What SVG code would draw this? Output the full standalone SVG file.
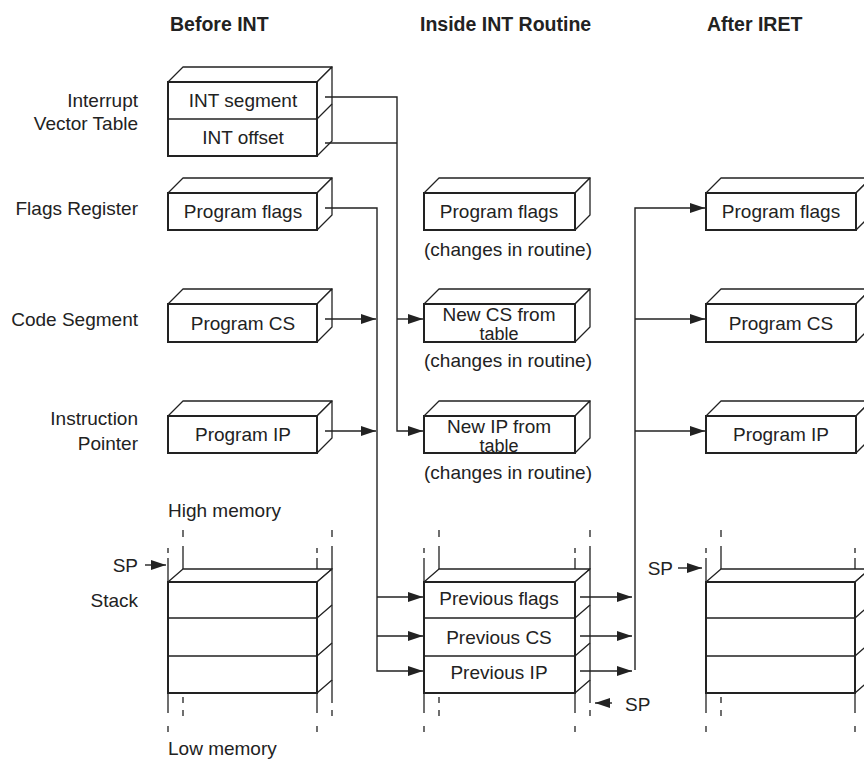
<svg xmlns="http://www.w3.org/2000/svg" width="864" height="759" viewBox="0 0 864 759">
<style>
text{font-family:"Liberation Sans",Arial,sans-serif;font-size:19px;fill:#222}
.h{font-weight:bold;font-size:19.5px}
.m{text-anchor:middle}
.r{text-anchor:end}
.t{font-size:18px}
.f{fill:#fff;stroke:#222;stroke-width:2}
.d{fill:#fff;stroke:#222;stroke-width:1.3;stroke-linejoin:round}
.l{fill:none;stroke:#222;stroke-width:1.3}
.c{fill:none;stroke:#222;stroke-width:1.4}
</style>
<defs>
<marker id="ah" markerUnits="userSpaceOnUse" markerWidth="15" markerHeight="10" refX="15" refY="5" orient="auto">
<path d="M0,0 L15,5 L0,10 z" fill="#222"/>
</marker>
</defs>
<rect width="864" height="759" fill="#fff"/>

<g id="headers">
<text class="h" x="170" y="31">Before INT</text>
<text class="h" x="420" y="31">Inside INT Routine</text>
<text class="h" x="707" y="31">After IRET</text>
</g>

<g id="labels">
<text class="r" x="138" y="107">Interrupt</text>
<text class="r" x="138" y="130">Vector Table</text>
<text class="r" x="138" y="215">Flags Register</text>
<text class="r" x="138" y="326">Code Segment</text>
<text class="r" x="138" y="425">Instruction</text>
<text class="r" x="138" y="450">Pointer</text>
<text x="168" y="517">High memory</text>
<text x="168" y="755">Low memory</text>
<text class="r" x="138" y="607">Stack</text>
</g>

<g id="ivt">
<path class="d" d="M168,82 L183,67 H332 L317,82 Z"/>
<path class="d" d="M317,82 L332,67 V141 L317,156 Z"/>
<path class="l" d="M317,119 L332,104"/>
<rect class="f" x="168" y="82" width="149" height="74"/>
<path class="l" d="M168,119 H317"/>
<text class="m" x="243" y="107">INT segment</text>
<text class="m" x="243" y="144">INT offset</text>
</g>

<g id="flags-before">
<path class="d" d="M168,193 L183,178 H332 L317,193 Z"/>
<path class="d" d="M317,193 L332,178 V215 L317,230 Z"/>
<rect class="f" x="168" y="193" width="149" height="37"/>
<text class="m" x="243" y="218">Program flags</text>
</g>

<g id="cs-before">
<path class="d" d="M168,304 L183,289 H332 L317,304 Z"/>
<path class="d" d="M317,304 L332,289 V327 L317,342 Z"/>
<rect class="f" x="168" y="304" width="149" height="38"/>
<text class="m" x="243" y="330">Program CS</text>
</g>

<g id="ip-before">
<path class="d" d="M168,416 L183,401 H332 L317,416 Z"/>
<path class="d" d="M317,416 L332,401 V438 L317,453 Z"/>
<rect class="f" x="168" y="416" width="149" height="37"/>
<text class="m" x="243" y="441">Program IP</text>
</g>

<g id="flags-inside">
<path class="d" d="M424,193 L439,178 H590 L575,193 Z"/>
<path class="d" d="M575,193 L590,178 V215 L575,230 Z"/>
<rect class="f" x="424" y="193" width="151" height="37"/>
<text class="m" x="499" y="218">Program flags</text>
<text class="m" x="508" y="256">(changes in routine)</text>
</g>

<g id="cs-inside">
<path class="d" d="M424,304 L439,289 H590 L575,304 Z"/>
<path class="d" d="M575,304 L590,289 V327 L575,342 Z"/>
<rect class="f" x="424" y="304" width="151" height="38"/>
<text class="m" x="499" y="321">New CS from</text>
<text class="m t" x="499" y="340">table</text>
<text class="m" x="508" y="367">(changes in routine)</text>
</g>

<g id="ip-inside">
<path class="d" d="M424,416 L439,401 H590 L575,416 Z"/>
<path class="d" d="M575,416 L590,401 V438 L575,453 Z"/>
<rect class="f" x="424" y="416" width="151" height="37"/>
<text class="m" x="499" y="433">New IP from</text>
<text class="m t" x="499" y="452">table</text>
<text class="m" x="508" y="479">(changes in routine)</text>
</g>

<g id="flags-after">
<path class="d" d="M706,193 L721,178 H871 L856,193 Z"/>
<path class="d" d="M856,193 L871,178 V215 L856,230 Z"/>
<rect class="f" x="706" y="193" width="150" height="37"/>
<text class="m" x="781" y="218">Program flags</text>
</g>

<g id="cs-after">
<path class="d" d="M706,304 L721,289 H871 L856,304 Z"/>
<path class="d" d="M856,304 L871,289 V327 L856,342 Z"/>
<rect class="f" x="706" y="304" width="150" height="38"/>
<text class="m" x="781" y="330">Program CS</text>
</g>

<g id="ip-after">
<path class="d" d="M706,416 L721,401 H871 L856,416 Z"/>
<path class="d" d="M856,416 L871,401 V438 L856,453 Z"/>
<rect class="f" x="706" y="416" width="150" height="37"/>
<text class="m" x="781" y="441">Program IP</text>
</g>

<g id="stack-before">
<path class="l" d="M168,548 V553 M168,558 V582 M317,548 V553 M317,558 V582 M183,530 V537 M183,546 V569 M332,530 V537 M332,546 V569"/>
<path class="l" d="M168,693 V713 M168,726 V732 M317,693 V713 M317,726 V732 M183,697 V703 M183,710 V716 M332,680 V703 M332,710 V716"/>
<path class="d" d="M168,582 L183,569 H332 L317,582 Z"/>
<path class="d" d="M317,582 L332,569 V680 L317,693 Z"/>
<path class="l" d="M317,618 L332,605 M317,656 L332,643"/>
<rect class="f" x="168" y="582" width="149" height="111"/>
<path class="l" d="M168,618 H317 M168,656 H317"/>
<text class="r" x="138" y="572">SP</text>
</g>

<g id="stack-inside">
<path class="l" d="M424,548 V553 M424,558 V582 M575,548 V553 M575,558 V582 M439,530 V537 M439,546 V569 M590,530 V537 M590,546 V569"/>
<path class="l" d="M424,693 V713 M424,726 V732 M575,693 V713 M575,726 V732 M439,697 V703 M439,710 V716 M590,680 V703 M590,710 V716"/>
<path class="d" d="M424,582 L439,569 H590 L575,582 Z"/>
<path class="d" d="M575,582 L590,569 V680 L575,693 Z"/>
<path class="l" d="M575,618 L590,605 M575,656 L590,643"/>
<rect class="f" x="424" y="582" width="151" height="111"/>
<path class="l" d="M424,618 H575 M424,656 H575"/>
<text class="m" x="499" y="605">Previous flags</text>
<text class="m" x="499" y="644">Previous CS</text>
<text class="m" x="499" y="679">Previous IP</text>
<text x="625" y="711">SP</text>
</g>

<g id="stack-after">
<path class="l" d="M706,548 V553 M706,558 V582 M855,548 V553 M855,558 V582 M721,530 V537 M721,546 V569 M870,530 V537 M870,546 V569"/>
<path class="l" d="M706,693 V713 M706,726 V732 M855,693 V713 M855,726 V732 M721,697 V703 M721,710 V716 M870,680 V703 M870,710 V716"/>
<path class="d" d="M706,582 L721,569 H870 L855,582 Z"/>
<path class="d" d="M855,582 L870,569 V680 L855,693 Z"/>
<path class="l" d="M855,618 L870,605 M855,656 L870,643"/>
<rect class="f" x="706" y="582" width="149" height="111"/>
<path class="l" d="M706,618 H855 M706,656 H855"/>
<text class="r" x="673" y="575">SP</text>
</g>

<g id="connectors">
<path class="c" d="M325,97 H397 V431 H423" marker-end="url(#ah)"/>
<path class="c" d="M325,143 H397"/>
<path class="c" d="M397,319 H423" marker-end="url(#ah)"/>
<path class="c" d="M325,208 H377 V671 H423" marker-end="url(#ah)"/>
<path class="c" d="M377,597 H423" marker-end="url(#ah)"/>
<path class="c" d="M377,636 H423" marker-end="url(#ah)"/>
<path class="c" d="M325,319 H376" marker-end="url(#ah)"/>
<path class="c" d="M325,431 H376" marker-end="url(#ah)"/>
<path class="c" d="M580,597 H632" marker-end="url(#ah)"/>
<path class="c" d="M580,636 H632" marker-end="url(#ah)"/>
<path class="c" d="M580,671 H632" marker-end="url(#ah)"/>
<path class="c" d="M635,670 V208 H705" marker-end="url(#ah)"/>
<path class="c" d="M635,319 H705" marker-end="url(#ah)"/>
<path class="c" d="M635,431 H705" marker-end="url(#ah)"/>
<path class="c" d="M145,565 H166" marker-end="url(#ah)"/>
<path class="c" d="M678,568 H702" marker-end="url(#ah)"/>
<path class="c" d="M612,703 H595" marker-end="url(#ah)"/>
</g>
</svg>
